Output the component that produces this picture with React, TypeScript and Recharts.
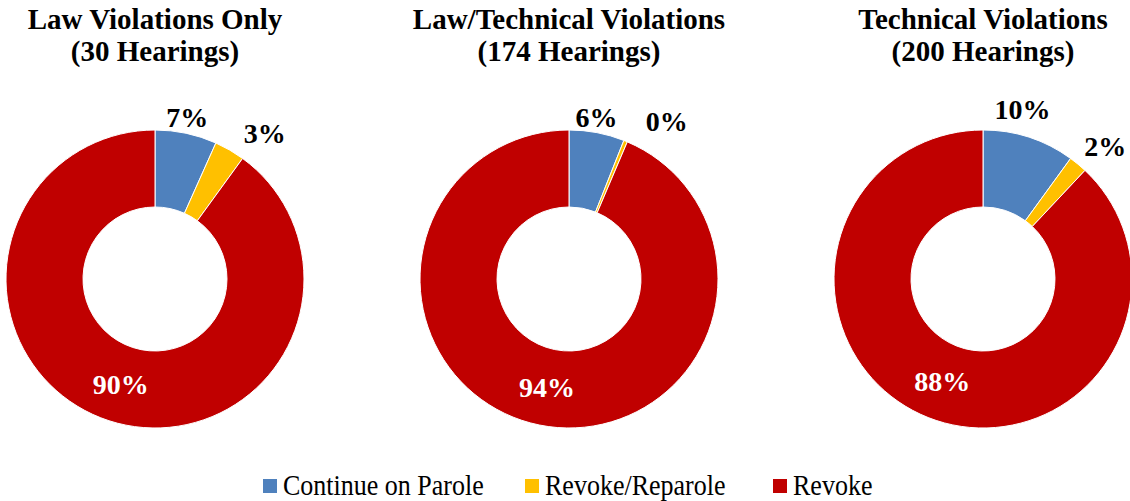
import { PieChart, Pie, Cell } from "recharts";

const categories = ["Continue on Parole", "Revoke/Reparole", "Revoke"];
const colors = ["#4F81BD", "#FFC000", "#C00000"];

const titles = [
  ["Law Violations Only", "(30 Hearings)"],
  ["Law/Technical Violations", "(174 Hearings)"],
  ["Technical Violations", "(200 Hearings)"],
];

// percent of hearings per outcome
const lawOnly = [6.7, 3.3, 90];
const lawTechnical = [6, 0.4, 93.6];
const technicalOnly = [10, 2, 88];

const groups = [lawOnly, lawTechnical, technicalOnly];

// small nudges for the outside labels so they don't collide
const labelNudges = [
  [[-4, 8], [23, 4], [0, 0]],
  [[-5, 8], [32, 3], [0, 0]],
  [[-14, -5], [12, 1], [0, 0]],
];

const centersX = [155, 569, 983];
const legendLefts = [263, 525, 773];
const CY = 279;
const OUTER = 149;
const INNER = 72;
const RAD = Math.PI / 180;

const font = "'Liberation Serif', 'Times New Roman', serif";

const makeLabel = (gi: number) => (props: any) => {
  const { cx, cy, midAngle, innerRadius, outerRadius, percent, index } = props;
  const inside = index === 2;
  const r = inside ? (innerRadius + outerRadius) / 2 : outerRadius + 24;
  const [dx, dy] = labelNudges[gi][index];
  const x = cx + r * Math.cos(-midAngle * RAD) + dx;
  const y = cy + r * Math.sin(-midAngle * RAD) + dy;
  return (
    <text
      x={x}
      y={y}
      textAnchor="middle"
      dominantBaseline="central"
      fill={inside ? "#fff" : "#000"}
      fontFamily={font}
      fontWeight="bold"
      fontSize={28}
    >
      {Math.round(percent * 100)}%
    </text>
  );
};

export default function App() {
  return (
    <div
      style={{
        position: "absolute",
        left: 0,
        top: 0,
        width: 1130,
        height: 501,
        background: "#fff",
        fontFamily: font,
        overflow: "hidden",
      }}
    >
      {titles.map((t, i) => (
        <div
          key={i}
          style={{
            position: "absolute",
            left: centersX[i] - 200,
            width: 400,
            top: 3,
            textAlign: "center",
            fontWeight: "bold",
            fontSize: 29,
            lineHeight: "32px",
            color: "#000",
          }}
        >
          {t[0]}
          <br />
          {t[1]}
        </div>
      ))}
      <div style={{ position: "absolute", left: 0, top: 0 }}>
        <PieChart width={1130} height={501} margin={{ top: 0, right: 0, bottom: 0, left: 0 }}>
          {groups.map((g, gi) => (
            <Pie
              key={gi}
              data={g.map((v, i) => ({ name: categories[i], value: v }))}
              dataKey="value"
              nameKey="name"
              cx={centersX[gi]}
              cy={CY}
              innerRadius={INNER}
              outerRadius={OUTER}
              startAngle={90}
              endAngle={-270}
              stroke="#fff"
              strokeWidth={1}
              label={makeLabel(gi)}
              labelLine={false}
              isAnimationActive={false}
            >
              {g.map((_, i) => (
                <Cell key={i} fill={colors[i]} />
              ))}
            </Pie>
          ))}
        </PieChart>
      </div>
      {categories.map((c, i) => (
        <div
          key={c}
          style={{
            position: "absolute",
            left: legendLefts[i],
            top: 472,
            display: "flex",
            alignItems: "center",
            fontSize: 26,
            lineHeight: "28px",
            color: "#000",
            whiteSpace: "nowrap",
          }}
        >
          <span
            style={{
              width: 14,
              height: 14,
              background: colors[i],
              display: "inline-block",
              marginRight: 6,
            }}
          />
          <span style={{ display: "inline-block", transform: "scaleY(1.12)" }}>{c}</span>
        </div>
      ))}
    </div>
  );
}
